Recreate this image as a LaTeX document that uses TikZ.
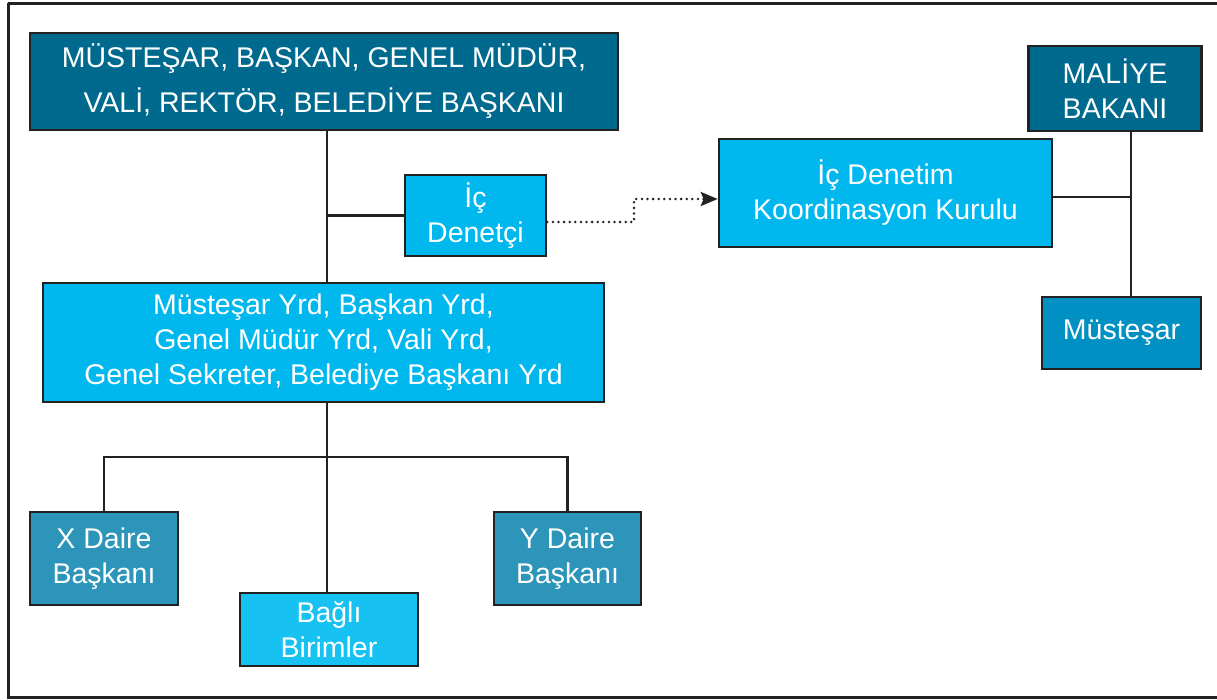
\documentclass[tikz,border=0pt]{standalone}
\usepackage{fontspec}
\setmainfont{Liberation Sans}
\usetikzlibrary{arrows.meta,calc}
\definecolor{cdark}{HTML}{006A8E}
\definecolor{ccyan}{HTML}{00B7EE}
\definecolor{clight}{HTML}{17C1F1}
\definecolor{cteal}{HTML}{2E95BA}
\definecolor{cmid}{HTML}{0090C3}
\definecolor{cline}{HTML}{222222}
\tikzset{
  box/.style={draw=cline, line width=2.6pt, rectangle, inner sep=0pt, text=white, align=center,
    font=\fontsize{28.5}{35}\selectfont},
  conn/.style={draw=cline, line width=2.6pt},
  dotconn/.style={draw=cline, line width=2.8pt, line cap=round, dash pattern=on 0pt off 5.6pt,
    -{Stealth[length=17pt,width=14pt,inset=3pt,line cap=butt,sep=0pt]}},
}
\begin{document}
\begin{tikzpicture}[x=1pt,y=-1pt]
\useasboundingbox (0,0) rectangle (1217,699);
\draw[cline, line width=3pt] (8,3) -- (1230,3) (8,3) -- (8,697) -- (1230,697);
% nodes
\node[box, fill=cdark, minimum width=588pt, minimum height=97pt,
  font=\fontsize{28.5}{45}\selectfont] (top) at (324,81.5)
  {MÜSTEŞAR, BAŞKAN, GENEL MÜDÜR,\\VALİ, REKTÖR, BELEDİYE BAŞKANI};
\node[box, fill=ccyan, minimum width=141pt, minimum height=81pt] (ic) at (475.5,215.5) {İç\\Denetçi};
\node[box, fill=ccyan, minimum width=333pt, minimum height=108pt] (kurul) at (885.5,193)
  {İç Denetim\\Koordinasyon Kurulu};
\node[box, fill=cdark, minimum width=173pt, minimum height=85pt] (maliye) at (1115,88.5) {MALİYE\\BAKANI};
\node[box, fill=cmid, minimum width=159pt, minimum height=72pt] (mus) at (1121.5,333) {Müsteşar};
\node[box, fill=ccyan, minimum width=561pt, minimum height=119pt] (mid) at (323.5,342.5)
  {Müsteşar Yrd, Başkan Yrd,\\Genel Müdür Yrd, Vali Yrd,\\Genel Sekreter, Belediye Başkanı Yrd};
\node[box, fill=cteal, minimum width=148pt, minimum height=93pt] (xd) at (104,558.5) {X Daire\\Başkanı};
\node[box, fill=cteal, minimum width=147pt, minimum height=93pt] (yd) at (567.5,558.5) {Y Daire\\Başkanı};
\node[box, fill=clight, minimum width=178pt, minimum height=73pt] (bagli) at (329,629.5) {Bağlı\\Birimler};
% connectors
\coordinate (vx) at (327,0);
\coordinate (bus) at (327,457);
\coordinate (rv) at (1131,0);
\coordinate (bend) at (634,0);
\draw[conn] (top.south -| vx) -- (mid.north -| vx);
\draw[conn] (ic.west) -- (ic.west -| vx);
\draw[conn] (mid.south -| vx) -- (bagli.north -| vx);
\draw[conn] (xd.north) |- (bus) -| (yd.north);
\draw[conn] (maliye.south -| rv) -- (mus.north -| rv);
\draw[conn] ([yshift=-4pt]kurul.east) -- ([yshift=-4pt]kurul.east -| rv);
\draw[dotconn] ([yshift=-6.5pt]ic.east) -| ([yshift=-6pt]bend |- kurul.west) -- ([yshift=-6pt]kurul.west);
\end{tikzpicture}
\end{document}
